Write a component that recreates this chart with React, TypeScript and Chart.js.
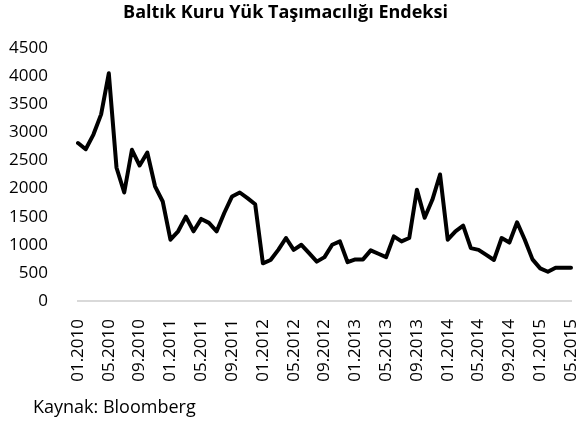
import React, { useEffect, useRef } from 'react';
import { Chart, registerables } from 'chart.js';

Chart.register(...registerables);

const categories = [
  '01.2010', '02.2010', '03.2010', '04.2010', '05.2010', '06.2010', '07.2010', '08.2010', '09.2010', '10.2010', '11.2010', '12.2010',
  '01.2011', '02.2011', '03.2011', '04.2011', '05.2011', '06.2011', '07.2011', '08.2011', '09.2011', '10.2011', '11.2011', '12.2011',
  '01.2012', '02.2012', '03.2012', '04.2012', '05.2012', '06.2012', '07.2012', '08.2012', '09.2012', '10.2012', '11.2012', '12.2012',
  '01.2013', '02.2013', '03.2013', '04.2013', '05.2013', '06.2013', '07.2013', '08.2013', '09.2013', '10.2013', '11.2013', '12.2013',
  '01.2014', '02.2014', '03.2014', '04.2014', '05.2014', '06.2014', '07.2014', '08.2014', '09.2014', '10.2014', '11.2014', '12.2014',
  '01.2015', '02.2015', '03.2015', '04.2015', '05.2015',
];

const bdiValues = [
  2810, 2700, 2960, 3320, 4050, 2370, 1930, 2690, 2410, 2640, 2040, 1770,
  1090, 1240, 1500, 1240, 1460, 1390, 1240, 1570, 1860, 1930, 1830, 1720,
  670, 730, 910, 1120, 910, 1000, 850, 700, 780, 1000, 1060, 690,
  740, 740, 900, 840, 780, 1150, 1060, 1120, 1980, 1480, 1800, 2250,
  1090, 1240, 1340, 940, 910, 820, 730, 1120, 1040, 1400, 1090, 740,
  580, 520, 590, 590, 590,
];

const yMin = 0;
const yMax = 4500;
const yStep = 500;

const titleText = 'Baltık Kuru Yük Taşımacılığı Endeksi';
const sourceText = 'Kaynak: Bloomberg';

const FONT = '"Open Sans", "DejaVu Sans", sans-serif';

export default function App() {
  const ref = useRef<HTMLCanvasElement>(null);

  useEffect(() => {
    if (!ref.current) return;
    const chart = new Chart(ref.current, {
      type: 'line',
      data: {
        labels: categories,
        datasets: [
          {
            data: bdiValues,
            borderColor: '#000000',
            borderWidth: 4,
            pointRadius: 0,
            tension: 0,
            borderJoinStyle: 'round',
            borderCapStyle: 'round',
            fill: false,
          },
        ],
      },
      options: {
        responsive: false,
        animation: false,
        layout: { padding: { left: 0, right: 17, top: 0, bottom: 0 } },
        plugins: {
          legend: { display: false },
          tooltip: { enabled: false },
          title: {
            display: true,
            text: titleText,
            color: '#000000',
            font: { family: FONT, size: 18, weight: 'bold' },
            padding: { top: 2, bottom: 24.4 },
          },
        },
        scales: {
          x: {
            offset: false,
            grid: { display: false },
            border: { display: true, color: '#d9d9d9', width: 2 },
            ticks: {
              autoSkip: false,
              maxRotation: 90,
              minRotation: 90,
              padding: 10,
              color: '#000000',
              font: { family: FONT, size: 17 },
              callback: (_v: any, i: number) => (i % 4 === 0 ? categories[i] : ''),
            },
            afterFit: (s: any) => {
              s.height = 122;
              s.paddingLeft = 0;
              s.paddingRight = 0;
            },
          },
          y: {
            min: yMin,
            max: yMax,
            grid: { display: false },
            border: { display: false },
            ticks: {
              stepSize: yStep,
              padding: 22,
              color: '#000000',
              font: { family: FONT, size: 17 },
              callback: (v: any) => String(v),
            },
            afterFit: (s: any) => {
              s.width = 78;
            },
          },
        },
      },
    });
    return () => chart.destroy();
  }, []);

  return (
    <div style={{ position: 'absolute', left: 0, top: 0, width: 588, height: 423, background: '#fff' }}>
      <canvas ref={ref} width={588} height={423} style={{ display: 'block' }} />
      <div
        style={{
          position: 'absolute',
          left: 33,
          top: 395,
          fontFamily: FONT,
          fontSize: 18,
          lineHeight: '22px',
          color: '#000',
          whiteSpace: 'nowrap',
        }}
      >
        {sourceText}
      </div>
    </div>
  );
}
